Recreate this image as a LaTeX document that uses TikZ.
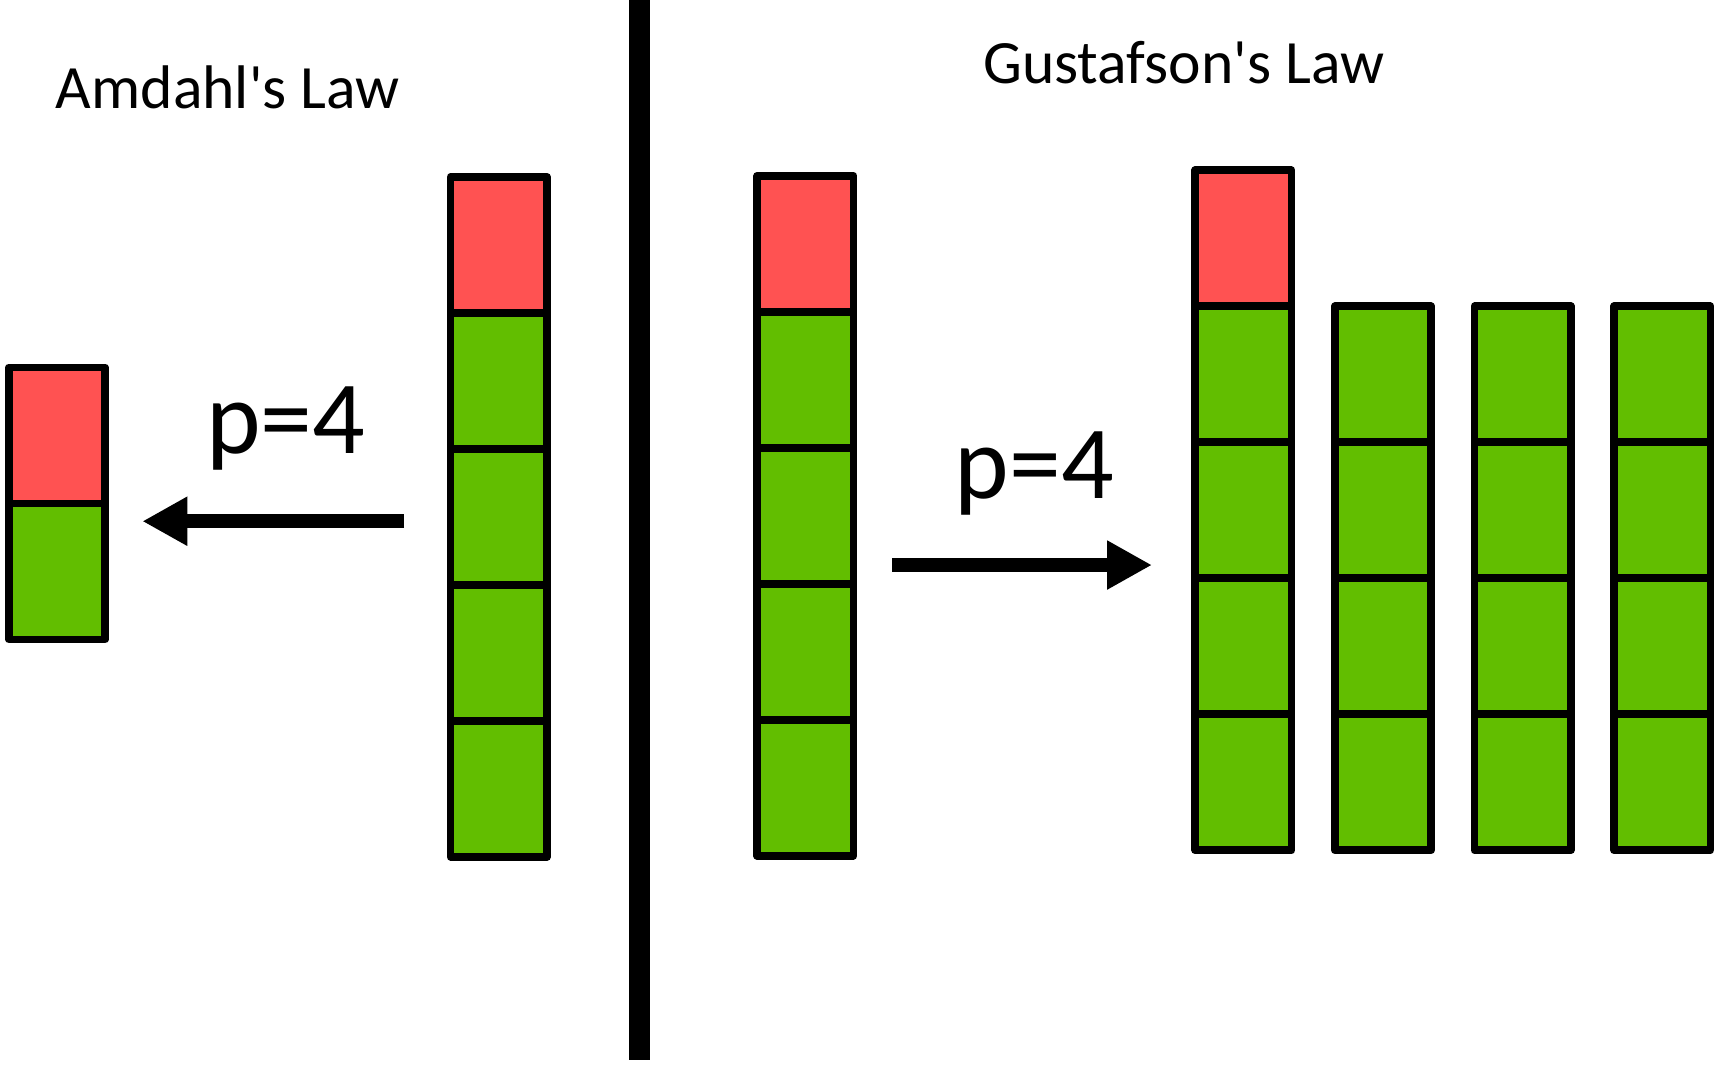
\documentclass[tikz,border=0pt]{standalone}
\usepackage{fontspec}
\setmainfont{Carlito}
\usepackage{xcolor}
\usepackage{tikz}
\definecolor{serialcolor}{RGB}{255, 82, 82}
\definecolor{parcolor}{RGB}{98, 190, 0}
\usetikzlibrary{arrows.meta, positioning}

\begin{document}
\begin{tikzpicture}[
    cellbox/.style={rectangle, draw, line width=2pt, line join=round, inner sep=0pt, outer sep=0pt, minimum width=0.88cm, minimum height=1.242cm},
    sercell/.style={cellbox, fill=serialcolor},
    parcell/.style={cellbox, fill=parcolor},
    lawtitle/.style={font=\fontsize{16}{19}\selectfont, anchor=base},
    plabel/.style={font=\fontsize{27}{32}\selectfont, anchor=base},
    arrow/.style={-{Triangle[length=4.1mm, width=4.2mm]}, line width=1.3mm}
]
    \useasboundingbox (0,0) rectangle (15.68,-9.73);

    % Titles
    \node[lawtitle] (amdahl) at (2.08,-0.99) {Amdahl\textquotesingle s Law};
    \node[lawtitle] (gustafson) at (10.81,-0.76) {Gustafson\textquotesingle s Law};

    % Divider
    \draw[line width=2mm] (5.84,0) -- (5.84,-9.68);

    % Amdahl: fixed problem, p=4
    \node[sercell] (as1) at (0.52,-3.976) {};
    \node[parcell, below=0pt of as1] (as2) {};

    \node[sercell] (at1) at (4.555,-2.236) {};
    \node[parcell, below=0pt of at1] (at2) {};
    \node[parcell, below=0pt of at2] (at3) {};
    \node[parcell, below=0pt of at3] (at4) {};
    \node[parcell, below=0pt of at4] (at5) {};

    \node[plabel] (pa) at (2.61,-4.14) {p=4};
    \coordinate (alevel) at (0,-4.76);
    \draw[arrow, shorten <=4.25mm, shorten >=3.4mm] (at1.west |- alevel) -- (as1.east |- alevel);

    % Gustafson: scaled problem, p=4
    \node[sercell] (gl1) at (7.355,-2.226) {};
    \node[parcell, below=0pt of gl1] (gl2) {};
    \node[parcell, below=0pt of gl2] (gl3) {};
    \node[parcell, below=0pt of gl3] (gl4) {};
    \node[parcell, below=0pt of gl4] (gl5) {};

    \node[sercell] (ga1) at (11.355,-2.176) {};
    \node[parcell, below=0pt of ga1] (ga2) {};
    \node[parcell, below=0pt of ga2] (ga3) {};
    \node[parcell, below=0pt of ga3] (ga4) {};
    \node[parcell, below=0pt of ga4] (ga5) {};

    \node[parcell, right=0.395cm of ga2] (gb1) {};
    \node[parcell, below=0pt of gb1] (gb2) {};
    \node[parcell, below=0pt of gb2] (gb3) {};
    \node[parcell, below=0pt of gb3] (gb4) {};

    \node[parcell, right=0.395cm of gb1] (gc1) {};
    \node[parcell, below=0pt of gc1] (gc2) {};
    \node[parcell, below=0pt of gc2] (gc3) {};
    \node[parcell, below=0pt of gc3] (gc4) {};

    \node[parcell, right=0.395cm of gc1] (gd1) {};
    \node[parcell, below=0pt of gd1] (gd2) {};
    \node[parcell, below=0pt of gd2] (gd3) {};
    \node[parcell, below=0pt of gd3] (gd4) {};

    \node[plabel] (pg) at (9.445,-4.55) {p=4};
    \coordinate (glevel) at (0,-5.16);
    \draw[arrow, shorten <=3.55mm, shorten >=3.95mm] (gl1.east |- glevel) -- (ga1.west |- glevel);
\end{tikzpicture}
\end{document}
